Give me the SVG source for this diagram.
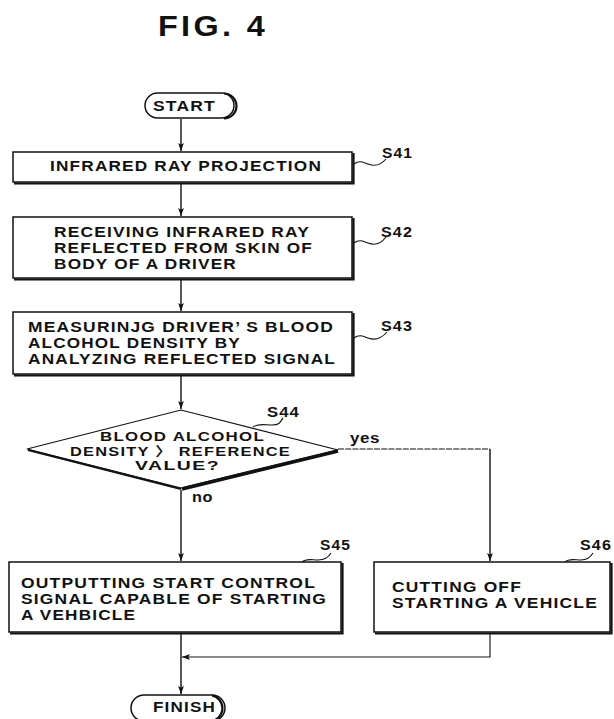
<svg xmlns="http://www.w3.org/2000/svg" width="614" height="719" viewBox="0 0 614 719">
  <style>
    .t { font-family: "Liberation Sans", Arial, "Noto Sans CJK KR", sans-serif; font-weight: bold; font-size: 14.5px; fill: #111; letter-spacing: 1px; }
    .d { font-size: 13px; }
    .s { font-size: 14px; letter-spacing: 0.5px; }
    .box { fill: #fff; stroke: #111; stroke-width: 1.5; }
    .shadow { fill: none; stroke: #111; stroke-width: 2.2; }
    .line { fill: none; stroke: #111; stroke-width: 1.4; }
    .thin { fill: none; stroke: #111; stroke-width: 1.1; }
    .sq { fill: none; stroke: #111; stroke-width: 1.1; }
  </style>
  <defs>
    <marker id="arr" markerWidth="8" markerHeight="11" refX="8" refY="3.5" orient="auto" markerUnits="userSpaceOnUse" viewBox="0 0 8 7">
      <path d="M0,0.6 L8,3.5 L0,6.4 L1.8,3.5 Z" fill="#111"/>
    </marker>
  </defs>
  <rect width="614" height="719" fill="#fff"/>

  <text class="t" x="158" y="36" textLength="110" lengthAdjust="spacingAndGlyphs" style="font-size:29px;letter-spacing:3px">FIG. 4</text>

  <!-- connectors -->
  <g id="connectors">
    <line class="line" x1="181" y1="119" x2="181" y2="151" marker-end="url(#arr)"/>
    <line class="line" x1="181" y1="183" x2="181" y2="216" marker-end="url(#arr)"/>
    <line class="line" x1="181" y1="280" x2="181" y2="311" marker-end="url(#arr)"/>
    <line class="line" x1="181" y1="376" x2="181" y2="409" marker-end="url(#arr)"/>
    <line class="line" x1="181" y1="490" x2="181" y2="561" marker-end="url(#arr)"/>
    <polyline class="thin" points="338,449 490,449" stroke-dasharray="6 1.2"/>
    <line class="line" x1="490" y1="449" x2="490" y2="561" marker-end="url(#arr)"/>
    <line class="line" x1="181" y1="634" x2="181" y2="694" marker-end="url(#arr)"/>
    <polyline class="thin" points="490,634 490,657 182,657" marker-end="url(#arr)"/>
  </g>

  <g id="start">
    <rect class="box" x="145" y="93" width="89" height="25" rx="12.5"/>
    <path class="shadow" d="M224,93.5 A12.5,12.5 0 0 1 224,118.5" stroke-width="2.4"/>
    <text class="t" x="153" y="111" textLength="63" lengthAdjust="spacingAndGlyphs">START</text>
  </g>

  <g id="s41">
    <rect class="box" x="13" y="152" width="339" height="30"/>
    <polyline class="shadow" points="353.5,153 353.5,183.5 14,183.5"/>
    <text class="t" x="50" y="171" textLength="272" lengthAdjust="spacingAndGlyphs">INFRARED RAY PROJECTION</text>
    <path class="sq" d="M354,164 C359,160 363,162 368,164 S380,166 386,159"/>
    <text class="t" x="382" y="158" textLength="31" lengthAdjust="spacingAndGlyphs">S41</text>
  </g>

  <g id="s42">
    <rect class="box" x="13" y="217" width="339" height="61"/>
    <polyline class="shadow" points="353.5,218 353.5,279.5 14,279.5"/>
    <text class="t" x="54" y="237" textLength="256" lengthAdjust="spacingAndGlyphs">RECEIVING INFRARED RAY</text>
    <text class="t" x="54" y="253" textLength="259" lengthAdjust="spacingAndGlyphs">REFLECTED FROM SKIN OF</text>
    <text class="t" x="54" y="269" textLength="183" lengthAdjust="spacingAndGlyphs">BODY OF A DRIVER</text>
    <path class="sq" d="M354,243 C359,239 363,241 368,243 S380,245 386,237"/>
    <text class="t" x="381" y="237" textLength="32" lengthAdjust="spacingAndGlyphs">S42</text>
  </g>

  <g id="s43">
    <rect class="box" x="13" y="312" width="339" height="62"/>
    <polyline class="shadow" points="353.5,313 353.5,375.5 14,375.5"/>
    <text class="t" x="28" y="332" textLength="306" lengthAdjust="spacingAndGlyphs">MEASURINJG DRIVER’ S BLOOD</text>
    <text class="t" x="28" y="348" textLength="213" lengthAdjust="spacingAndGlyphs">ALCOHOL DENSITY BY</text>
    <text class="t" x="28" y="364" textLength="308" lengthAdjust="spacingAndGlyphs">ANALYZING REFLECTED SIGNAL</text>
    <path class="sq" d="M354,338 C359,334 363,336 368,338 S380,340 387,332"/>
    <text class="t" x="381" y="331" textLength="32" lengthAdjust="spacingAndGlyphs">S43</text>
  </g>

  <g id="s44">
    <polygon points="27,449 181,410 338,450 181,488" fill="#fff" stroke="#111" stroke-width="1.2"/>
    <line x1="28" y1="450" x2="181" y2="489" stroke="#111" stroke-width="2.2"/>
    <line x1="182" y1="489" x2="338" y2="451" stroke="#111" stroke-width="3.6"/>
    <text class="t d" x="100" y="441" textLength="165" lengthAdjust="spacingAndGlyphs">BLOOD ALCOHOL</text>
    <text class="t d" x="70" y="456" textLength="221" lengthAdjust="spacingAndGlyphs">DENSITY 〉 REFERENCE</text>
    <text class="t d" x="135" y="470" textLength="85" lengthAdjust="spacingAndGlyphs">VALUE?</text>
    <path class="sq" d="M253,427 C258,423 265,425 272,425 S280,423 283,418"/>
    <text class="t" x="267" y="417" textLength="33" lengthAdjust="spacingAndGlyphs">S44</text>
    <text class="t s" x="350" y="443" textLength="30" lengthAdjust="spacingAndGlyphs">yes</text>
    <text class="t s" x="192" y="502" textLength="21" lengthAdjust="spacingAndGlyphs">no</text>
  </g>

  <g id="s45">
    <rect class="box" x="9" y="562" width="332" height="70"/>
    <polyline class="shadow" points="342.5,563 342.5,633.5 10,633.5"/>
    <text class="t" x="21" y="588" textLength="295" lengthAdjust="spacingAndGlyphs">OUTPUTTING START CONTROL</text>
    <text class="t" x="21" y="604" textLength="306" lengthAdjust="spacingAndGlyphs">SIGNAL CAPABLE OF STARTING</text>
    <text class="t" x="21" y="620" textLength="115" lengthAdjust="spacingAndGlyphs">A VEHBICLE</text>
    <path class="sq" d="M302,562 C306,558 312,560 318,560 S328,558 331,553"/>
    <text class="t" x="320" y="550" textLength="31" lengthAdjust="spacingAndGlyphs">S45</text>
  </g>

  <g id="s46">
    <rect class="box" x="374" y="562" width="236" height="70"/>
    <polyline class="shadow" points="611.5,563 611.5,633.5 375,633.5"/>
    <text class="t" x="392" y="592" textLength="130" lengthAdjust="spacingAndGlyphs">CUTTING OFF</text>
    <text class="t" x="392" y="608" textLength="206" lengthAdjust="spacingAndGlyphs">STARTING A VEHICLE</text>
    <path class="sq" d="M565,562 C569,558 575,560 581,560 S590,558 593,553"/>
    <text class="t" x="580" y="550" textLength="32" lengthAdjust="spacingAndGlyphs">S46</text>
  </g>

  <g id="finish">
    <rect class="box" x="131" y="695" width="94" height="26" rx="13"/>
    <path class="shadow" d="M212,695.5 A13,13 0 0 1 212,721" stroke-width="2.4"/>
    <text class="t" x="153" y="712" textLength="63" lengthAdjust="spacingAndGlyphs">FINISH</text>
  </g>
</svg>
